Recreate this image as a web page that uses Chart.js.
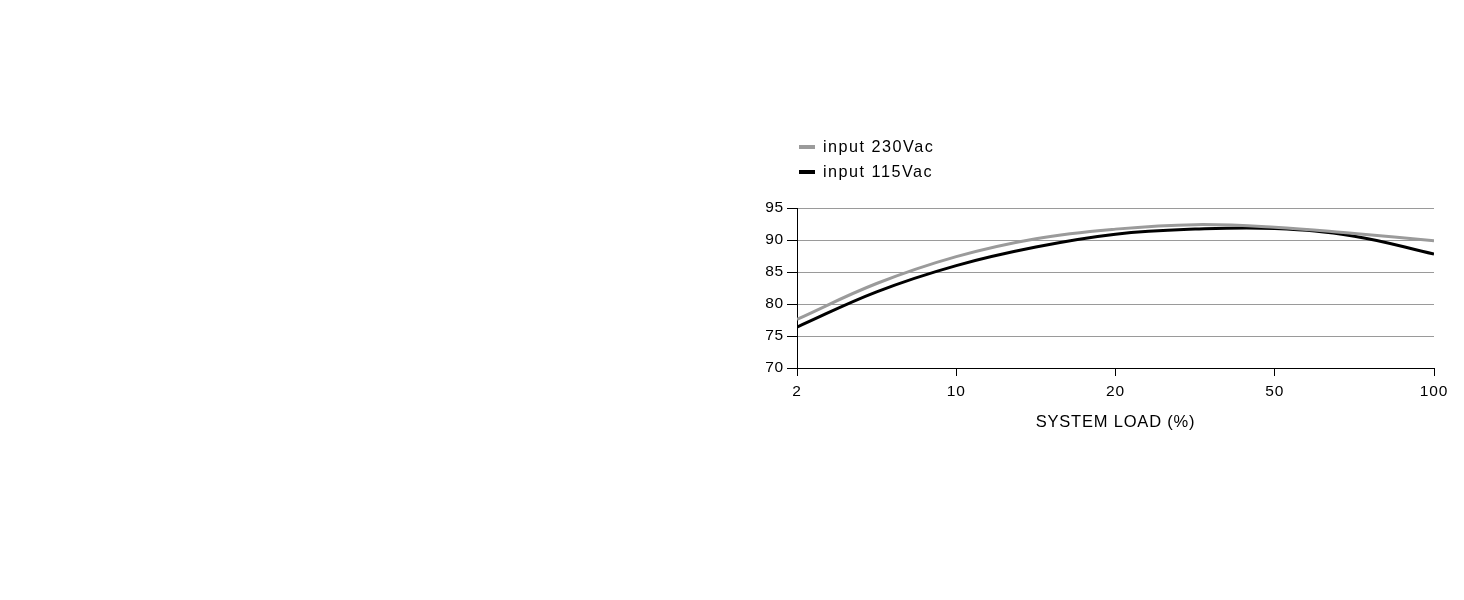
<!DOCTYPE html>
<html>
<head>
<meta charset="utf-8">
<script src="https://cdn.jsdelivr.net/npm/chart.js@4/dist/chart.umd.min.js"></script>
<style>
  html, body { margin: 0; padding: 0; background: #fff; }
  #wrap { position: relative; width: 1464px; height: 600px; }
  #c { position: absolute; left: 0; top: 0; }
  #legend { position: absolute; left: 799px; top: 134px; font-family: "Liberation Sans", Arial, sans-serif; font-size: 16.2px; letter-spacing: 1.5px; color: #000; }
  .item { display: flex; align-items: center; height: 25px; }
  .swatch { width: 16px; height: 4px; margin-right: 8px; }
</style>
</head>
<body>
<div id="wrap">
  <canvas id="c" width="1464" height="600"></canvas>
  <div id="legend"></div>
</div>
<script>
// Tick labels for the (evenly spaced) load axis
const loadLabels = ['2', '10', '20', '50', '100'];
// Sample positions along the load axis, in tick-index units (0 = "2", 4 = "100")
const samplePos = [0, 0.5, 1, 1.5, 2, 2.5, 3, 3.5, 4];
// Efficiency (%) at those positions
const eff230 = [77.6, 83.2, 87.4, 90.2, 91.7, 92.4, 92.0, 91.0, 89.9];
const eff115 = [76.4, 81.9, 86.0, 88.9, 90.9, 91.7, 91.8, 90.6, 87.8];
const seriesNames = ['input 230Vac', 'input 115Vac'];
const seriesColors = ['#9b9b9b', '#000000'];
const yTicks = [70, 75, 80, 85, 90, 95];

const toPts = (vals) => samplePos.map((x, i) => ({ x: x, y: vals[i] }));

const FONT = '"Liberation Sans", Arial, sans-serif';

const spacingPlugin = {
  id: 'spacing',
  beforeDraw(chart) { chart.ctx.letterSpacing = '0.8px'; }
};

new Chart(document.getElementById('c'), {
  type: 'line',
  data: {
    datasets: [
      { label: seriesNames[0], data: toPts(eff230), borderColor: seriesColors[0], backgroundColor: seriesColors[0], borderWidth: 3, pointRadius: 0, tension: 0.4, fill: false },
      { label: seriesNames[1], data: toPts(eff115), borderColor: seriesColors[1], backgroundColor: seriesColors[1], borderWidth: 3, pointRadius: 0, tension: 0.4, fill: false }
    ]
  },
  plugins: [spacingPlugin],
  options: {
    responsive: false,
    animation: false,
    layout: { padding: { left: 747, right: 30, top: 208, bottom: 152 } },
    plugins: { legend: { display: false }, tooltip: { enabled: false } },
    scales: {
      x: {
        type: 'linear',
        min: 0, max: 4,
        afterBuildTicks: (s) => { s.ticks = loadLabels.map((_, i) => ({ value: i })); },
        afterFit: (s) => { s.height = 80; },
        ticks: { callback: (v) => loadLabels[v], color: '#000', font: { family: FONT, size: 15.5 }, padding: 6, maxRotation: 0, autoSkip: false },
        grid: { drawOnChartArea: false, tickLength: 8, color: '#000', tickColor: '#000' },
        border: { color: '#000', width: 1 },
        title: { display: true, text: 'SYSTEM LOAD (%)', color: '#000', font: { family: FONT, size: 16.5 }, padding: { top: 0, bottom: 16 } }
      },
      y: {
        min: 70, max: 95,
        afterBuildTicks: (s) => { s.ticks = yTicks.map(v => ({ value: v })); },
        afterFit: (s) => { s.width = 50; },
        ticks: { color: '#000', font: { family: FONT, size: 15.5 }, padding: 3 },
        grid: { color: '#9a9a9a', lineWidth: 1, tickLength: 10, tickColor: '#000' },
        border: { color: '#000', width: 1 }
      }
    }
  }
});

const legend = document.getElementById('legend');
seriesNames.forEach((n, i) => {
  const d = document.createElement('div');
  d.className = 'item';
  d.innerHTML = '<span class="swatch" style="background:' + seriesColors[i] + '"></span><span>' + n + '</span>';
  legend.appendChild(d);
});
</script>
</body>
</html>
